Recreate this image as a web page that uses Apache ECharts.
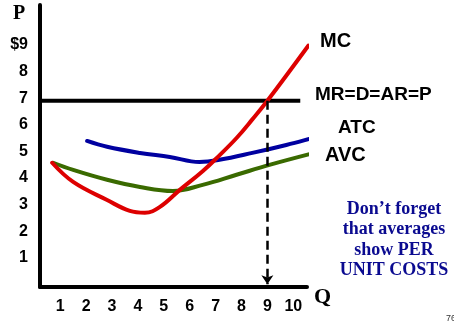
<!DOCTYPE html>
<html>
<head>
<meta charset="utf-8">
<script src="https://cdn.jsdelivr.net/npm/echarts@6/dist/echarts.min.js"></script>
<style>
  html, body { margin: 0; padding: 0; background: #fff; }
  #chart { width: 454px; height: 325px; }
</style>
</head>
<body>
<div id="chart"></div>
<script>
// Quantity (Q) ticks and price (P) ticks
const qTicks = [1, 2, 3, 4, 5, 6, 7, 8, 9, 10];
const pTicks = [1, 2, 3, 4, 5, 6, 7, 8, 9];

// Marginal cost curve
const mcQ = [0.69, 1.5, 2.81, 3.69, 4.27, 4.85, 5.62, 6.5, 7.15, 7.81, 8.42, 9.0, 10.58];
const mcP = [4.67, 3.95, 3.27, 2.86, 2.79, 3.01, 3.65, 4.35, 4.95, 5.6, 6.3, 7.0, 9.07];

// Average total cost curve
const atcQ = [2.04, 2.81, 4.08, 5.23, 6.38, 7.15, 8.42, 9.73, 10.62, 11.46];
const atcP = [5.49, 5.27, 5.04, 4.89, 4.70, 4.78, 5.04, 5.34, 5.57, 5.80];

// Average variable cost curve
const avcQ = [0.73, 1.5, 2.81, 4.08, 5.35, 6.5, 7.81, 9.08, 10.69];
const avcP = [4.67, 4.40, 4.03, 3.76, 3.61, 3.84, 4.22, 4.59, 5.01];

// Market price line (MR = D = AR = P) and the profit-maximising output
const price = 7;
const priceQ = [0.22, 10.27];
const bestQ = 9;

const zip = (xs, ys) => xs.map((x, i) => [x, ys[i]]);

const SANS = "'Liberation Sans', Arial, sans-serif";
const SERIF = "'Liberation Serif', 'Times New Roman', serif";

const chart = echarts.init(document.getElementById('chart'), null, { renderer: 'canvas' });

const curve = (name, q, p, color) => ({
  name,
  type: 'line',
  data: zip(q, p),
  smooth: 0.4,
  symbol: 'none',
  clip: false,
  lineStyle: { color, width: 4, cap: 'round', join: 'round' }
});

chart.setOption({
  animation: false,
  backgroundColor: '#ffffff',
  grid: { left: 40, top: 5, width: 267, height: 282 },
  xAxis: {
    type: 'value',
    min: 0.22,
    max: 10.53,
    splitLine: { show: false },
    axisTick: { show: false },
    axisLine: { show: true, onZero: false, lineStyle: { color: '#000', width: 4 } },
    axisLabel: {
      customValues: qTicks,
      margin: 12,
      color: '#000',
      fontSize: 16,
      fontWeight: 'bold',
      fontFamily: SANS
    }
  },
  yAxis: {
    type: 'value',
    min: 0,
    max: 10.6,
    splitLine: { show: false },
    axisTick: { show: false },
    axisLine: { show: true, onZero: false, lineStyle: { color: '#000', width: 4 } },
    axisLabel: {
      customValues: pTicks,
      margin: 12,
      color: '#000',
      fontSize: 16,
      fontWeight: 'bold',
      fontFamily: SANS,
      verticalAlign: 'bottom',
      lineHeight: 5,
      formatter: v => (v === 9 ? '$9' : String(v))
    }
  },
  series: [
    {
      name: 'MR=D=AR=P',
      type: 'line',
      data: zip(priceQ, [price, price]),
      symbol: 'none',
      clip: false,
      lineStyle: { color: '#000', width: 4 },
      markLine: {
        silent: true,
        symbolSize: [9, 9],
        label: { show: false },
        lineStyle: { color: '#000', width: 2.5, type: [9, 5] },
        data: [[
          { coord: [bestQ, price], symbol: 'none' },
          { coord: [bestQ, 0.1], symbol: 'arrow' }
        ]]
      }
    },
    curve('AVC', avcQ, avcP, '#3a6a00'),
    curve('ATC', atcQ, atcP, '#0000a0'),
    curve('MC', mcQ, mcP, '#dd0000')
  ],
  graphic: [
    { type: 'text', left: 13, top: 4, style: { text: 'P', font: 'bold 20px ' + SERIF, fill: '#000' } },
    { type: 'text', left: 314, top: 286, style: { text: 'Q', font: 'bold 22px ' + SERIF, fill: '#000' } },
    { type: 'text', left: 320, top: 31, style: { text: 'MC', font: 'bold 20px ' + SANS, fill: '#000' } },
    { type: 'text', left: 315, top: 85, style: { text: 'MR=D=AR=P', font: 'bold 19px ' + SANS, fill: '#000' } },
    { type: 'text', left: 338, top: 118, style: { text: 'ATC', font: 'bold 19px ' + SANS, fill: '#000' } },
    { type: 'text', left: 325, top: 145, style: { text: 'AVC', font: 'bold 20px ' + SANS, fill: '#000' } },
    {
      type: 'text', x: 394, y: 199,
      style: {
        text: 'Don’t forget\nthat averages\nshow PER\nUNIT COSTS',
        font: 'bold 18px ' + SERIF,
        lineHeight: 20.5,
        align: 'center',
        fill: '#0a0a90'
      }
    },
    { type: 'text', left: 446, top: 314, style: { text: '76', font: '9px ' + SANS, fill: '#333' } }
  ]
});
</script>
</body>
</html>
